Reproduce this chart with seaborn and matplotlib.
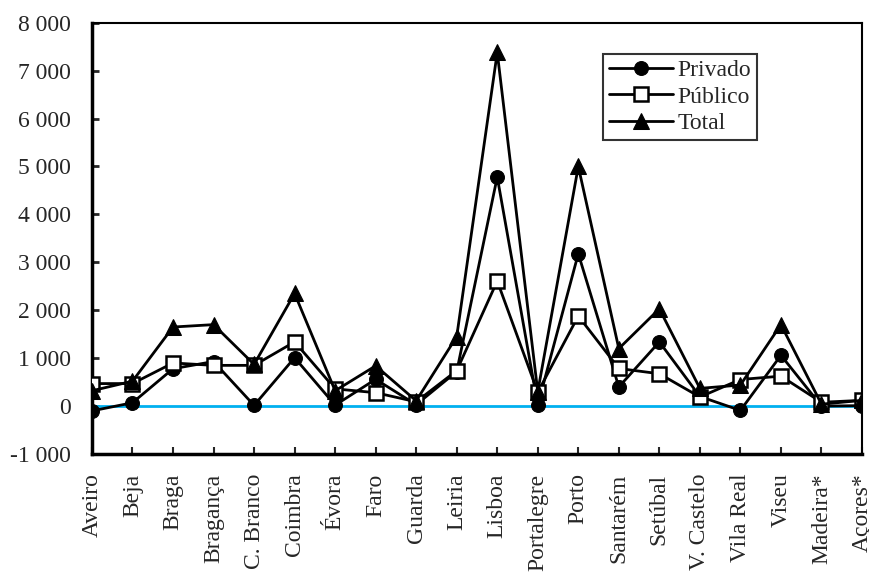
import matplotlib
matplotlib.use("Agg")
import matplotlib.pyplot as plt
import seaborn as sns
import pandas as pd
from matplotlib.ticker import FuncFormatter

categories = ["Aveiro", "Beja", "Braga", "Bragança", "C. Branco", "Coimbra", "Évora",
              "Faro", "Guarda", "Leiria", "Lisboa", "Portalegre", "Porto", "Santarém",
              "Setúbal", "V. Castelo", "Vila Real", "Viseu", "Madeira*", "Açores*"]
privado = [-100, 70, 780, 930, 15, 1010, 20, 560, 30, 720, 4780, 20, 3180, 400, 1340,
           200, -90, 1060, 0, 10]
publico = [470, 470, 900, 850, 850, 1340, 360, 280, 90, 740, 2610, 290, 1880, 785, 675,
           190, 555, 625, 80, 120]
total = [320, 520, 1650, 1700, 870, 2350, 320, 840, 110, 1450, 7380, 300, 5000, 1200,
         2030, 370, 440, 1700, 40, 120]

sns.set_theme(style="white")
plt.rcParams["font.family"] = ["Liberation Serif", "DejaVu Serif"]

df = pd.DataFrame({"pos": range(len(categories)), "Privado": privado,
                   "Público": publico, "Total": total})

fig = plt.figure(figsize=(8.7, 5.74), dpi=100)
ax = fig.add_axes([0.1057, 0.209, 0.8851, 0.7515])

ax.axhline(0, color="#00B0F0", lw=2, zorder=1)

sns.lineplot(data=df, x="pos", y="Privado", ax=ax, color="black", lw=2, marker="o",
             markersize=10, markerfacecolor="black", markeredgecolor="black",
             label="Privado", zorder=3)
sns.lineplot(data=df, x="pos", y="Público", ax=ax, color="black", lw=2, marker="s",
             markersize=10, markerfacecolor="white", markeredgecolor="black",
             markeredgewidth=1.8, label="Público", zorder=4)
sns.lineplot(data=df, x="pos", y="Total", ax=ax, color="black", lw=2, marker="^",
             markersize=12, markerfacecolor="black", markeredgecolor="black",
             label="Total", zorder=5)

ax.set_xlim(0, len(categories) - 1)
ax.set_ylim(-1000, 8000)
ax.set_xticks(range(len(categories)))
ax.set_xticklabels(categories, rotation=90, fontsize=17)
ax.set_yticks(range(-1000, 8001, 1000))
ax.yaxis.set_major_formatter(FuncFormatter(lambda v, p: f"{int(v):,}".replace(",", " ")))
ax.tick_params(axis="y", labelsize=17, direction="in", length=5, width=2, left=True, pad=15)
ax.tick_params(axis="x", direction="in", length=5, width=1.5, bottom=True, pad=14)
ax.set_xlabel("")
ax.set_ylabel("")
for s in ax.spines.values():
    s.set_visible(True)
    s.set_color("black")
ax.spines["left"].set_linewidth(2.5)
ax.spines["bottom"].set_linewidth(2.5)
ax.spines["top"].set_linewidth(1.5)
ax.spines["right"].set_linewidth(1.5)

leg = ax.legend(loc="upper left", bbox_to_anchor=(0.6636, 0.9274), fontsize=17,
                handlelength=2.7, frameon=True, fancybox=False, borderpad=0.25,
                labelspacing=0.2, handletextpad=0.2, borderaxespad=0)
leg.get_frame().set_edgecolor("black")
leg.get_frame().set_linewidth(1.5)

fig.savefig("out.png", dpi=100)
